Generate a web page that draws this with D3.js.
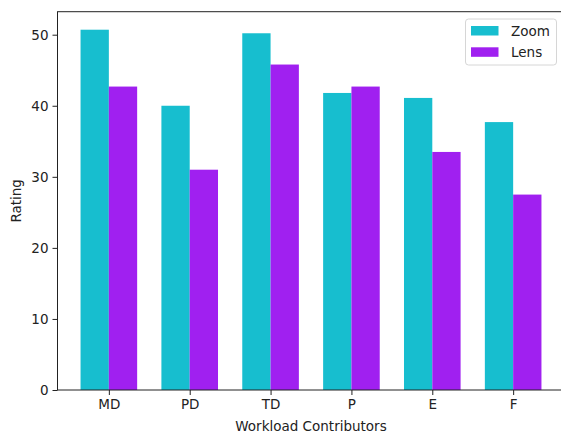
<!DOCTYPE html>
<html>
<head>
<meta charset="utf-8">
<script src="https://cdn.jsdelivr.net/npm/d3@7"></script>
<style>
body{margin:0;background:#fff;}
svg{display:block;font-family:"DejaVu Sans",sans-serif;}
</style>
</head>
<body>
<svg id="chart" width="561" height="435"></svg>
<script>
const categories = ["MD","PD","TD","P","E","F"];
const seriesNames = ["Zoom","Lens"];
const zoomValues = [50.7, 40.0, 50.2, 41.8, 41.1, 37.7];
const lensValues = [42.7, 31.0, 45.8, 42.7, 33.5, 27.5];
const yTicks = [0,10,20,30,40,50];
const colors = ["#17becf","#a020f0"];

const svg = d3.select("#chart");
const L = 57.5, R = 564.5, T = 11.7, B = 390;
const barW = 0.35;
const n = categories.length;
const allMax = d3.max(zoomValues.concat(lensValues));
const x = d3.scaleLinear().domain([-barW - 0.05*(n-1+2*barW), n-1+barW + 0.05*(n-1+2*barW)]).range([L, R]);
const y = d3.scaleLinear().domain([0, allMax*1.05]).range([B, T]);

const series = [zoomValues, lensValues];
series.forEach((vals, si) => {
  svg.append("g").selectAll("rect").data(vals).join("rect")
    .attr("x", (d,i) => x(i - barW + si*barW))
    .attr("width", (d,i) => x(i + si*barW) - x(i - barW + si*barW))
    .attr("y", d => y(d))
    .attr("height", d => B - y(d))
    .attr("fill", colors[si]);
});

const fs = "13.5px";
// x axis
const xAxis = d3.axisBottom(x).tickValues(d3.range(n)).tickFormat(i => categories[i]).tickSize(5).tickPadding(4);
const gx = svg.append("g").attr("transform", `translate(0,${B})`).call(xAxis);
gx.select(".domain").remove();
gx.selectAll("text").attr("font-size", fs).attr("fill","#222").attr("font-family","DejaVu Sans");
gx.selectAll("line").attr("stroke","#222");

const yAxis = d3.axisLeft(y).tickValues(yTicks).tickSize(5).tickPadding(4);
const gy = svg.append("g").attr("transform", `translate(${L},0)`).call(yAxis);
gy.select(".domain").remove();
gy.selectAll("text").attr("font-size", fs).attr("fill","#222").attr("font-family","DejaVu Sans");
gy.selectAll("line").attr("stroke","#222");

// spines
svg.append("rect").attr("x", L).attr("y", T).attr("width", R-L).attr("height", B-T)
  .attr("fill","none").attr("stroke","#222").attr("stroke-width",1);

// labels
svg.append("text").attr("x", (L+R)/2).attr("y", 431).attr("text-anchor","middle")
  .attr("font-size", fs).attr("fill","#222").text("Workload Contributors");
svg.append("text").attr("transform", `translate(21,${(T+B)/2}) rotate(-90)`).attr("text-anchor","middle")
  .attr("font-size", fs).attr("fill","#222").text("Rating");

// legend
const lg = svg.append("g");
lg.append("rect").attr("x", 465.5).attr("y", 19).attr("width", 91).attr("height", 46).attr("rx",3)
  .attr("fill","#fff").attr("fill-opacity",0.8).attr("stroke","#d6d6d6");
seriesNames.forEach((s, i) => {
  lg.append("rect").attr("x", 471).attr("y", 26 + i*21.3).attr("width", 27.5).attr("height", 9.5).attr("fill", colors[i]);
  lg.append("text").attr("x", 511).attr("y", 36 + i*21.3).attr("font-size", fs).attr("fill","#222").text(s);
});
</script>
</body>
</html>
